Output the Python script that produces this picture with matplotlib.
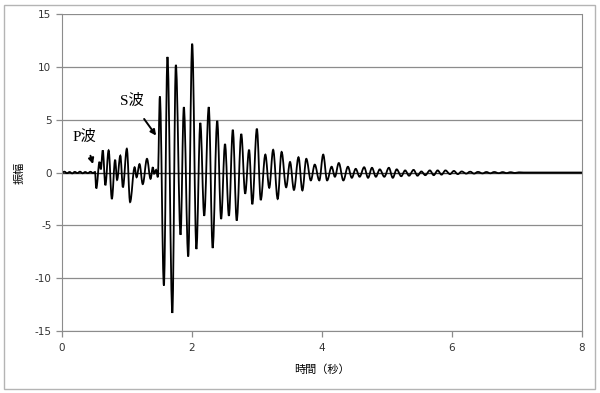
import numpy as np
import matplotlib
matplotlib.use('Agg')
import matplotlib.pyplot as plt
from matplotlib.patches import Rectangle, PathPatch
from matplotlib.path import Path

plt.rcParams['font.family'] = ['DejaVu Sans', 'Noto Sans CJK JP']
plt.rcParams['axes.unicode_minus'] = False

# values (peaks and troughs of the trace)
noise_t = [0.00, 0.04, 0.08, 0.12, 0.16, 0.20, 0.24, 0.28, 0.32, 0.36, 0.40, 0.44, 0.48, 0.51]
noise_a = [0.0, 0.08, -0.06, 0.05, -0.08, 0.06, -0.05, 0.08, -0.07, 0.05, -0.06, 0.07, -0.05, 0.05]

p_t = [0.53, 0.58, 0.60, 0.63, 0.67, 0.72, 0.77, 0.82, 0.85, 0.90, 0.94, 1.00,
       1.05, 1.12, 1.15, 1.195, 1.245, 1.31, 1.365, 1.40, 1.42, 1.45, 1.477]
p_a = [-1.5, 1.0, 0.3, 2.1, -1.2, 2.1, -2.5, 1.2, -0.7, 1.6, -1.4, 2.25,
       -2.8, 0.5, -0.45, 0.8, -1.1, 1.3, -0.6, 0.5, -0.1, 0.25, -0.45]

s_t = [1.508, 1.57, 1.625, 1.70, 1.754, 1.826, 1.877, 1.944, 2.005, 2.07, 2.13, 2.19,
       2.26, 2.32, 2.39, 2.45, 2.51, 2.57, 2.63, 2.69, 2.76, 2.82, 2.88, 2.93,
       3.00, 3.06, 3.13, 3.19, 3.25, 3.32, 3.38, 3.45, 3.51, 3.57, 3.64, 3.70,
       3.76, 3.83, 3.89, 3.96, 4.02, 4.08]
s_a = [7.2, -10.7, 10.95, -13.3, 10.2, -5.9, 6.2, -7.95, 12.2, -7.25, 4.7, -4.1,
       6.2, -7.15, 4.9, -4.4, 2.7, -4.1, 4.05, -4.55, 3.65, -2.0, 2.15, -3.0,
       4.15, -2.6, 1.7, -1.45, 2.15, -2.5, 1.95, -1.4, 1.0, -1.65, 1.45, -1.7,
       1.3, -0.75, 0.75, -0.75, 1.7, -0.75]

coda_t = [4.15, 4.20, 4.26, 4.33, 4.40, 4.46, 4.52, 4.58, 4.65, 4.71, 4.77, 4.83,
          4.89, 4.96, 5.03, 5.09, 5.15, 5.22, 5.28, 5.34, 5.41, 5.47, 5.53, 5.59,
          5.66, 5.72, 5.78, 5.84, 5.90, 5.97, 6.03, 6.09, 6.15, 6.22, 6.28, 6.34,
          6.40, 6.47, 6.53, 6.59, 6.65, 6.72, 6.78, 6.84, 6.90, 6.97, 7.03, 7.10,
          7.50, 8.00]
coda_a = [0.55, -0.4, 0.9, -0.75, 0.55, -0.5, 0.35, -0.4, 0.5, -0.5, 0.45, -0.4,
          0.3, -0.4, 0.45, -0.5, 0.3, -0.35, 0.2, -0.3, 0.25, -0.3, 0.1, -0.25,
          0.2, -0.25, 0.2, -0.2, 0.2, -0.15, 0.15, -0.15, 0.1, -0.1, 0.08, -0.1,
          0.06, -0.08, 0.05, -0.07, 0.05, -0.06, 0.04, -0.05, 0.03, -0.04, 0.02, 0.0,
          0.0, 0.0]

x_ticks = [0, 2, 4, 6, 8]
y_ticks = [-15, -10, -5, 0, 5, 10, 15]

t = np.array(noise_t + p_t + s_t + coda_t)
amp = np.array(noise_a + p_a + s_a + coda_a)

fig = plt.figure(figsize=(6, 3.93), dpi=100)
fig.patches.append(Rectangle((0.006, 0.01), 0.986, 0.978, transform=fig.transFigure,
                             fill=False, edgecolor='#b4b4b4', lw=1))
ax = fig.add_axes([0.103, 0.158, 0.867, 0.806])

for y in y_ticks:
    ax.axhline(y, color='#8c8c8c', lw=0.9, zorder=0)
ax.axhline(0, color='#333333', lw=0.9, zorder=1)

# smooth trace through the peaks: cubic segments, flat at each extremum
verts = [(t[0], amp[0])]
codes = [Path.MOVETO]
for i in range(1, len(t)):
    dx = (t[i] - t[i - 1]) * 0.36
    verts += [(t[i - 1] + dx, amp[i - 1]), (t[i] - dx, amp[i]), (t[i], amp[i])]
    codes += [Path.CURVE4] * 3
ax.add_patch(PathPatch(Path(verts, codes), facecolor='none', edgecolor='k',
                       lw=1.3, zorder=2))

ax.set_xlim(0, 8)
ax.set_ylim(-15, 15)
ax.set_xticks(x_ticks)
ax.set_yticks(y_ticks)
ax.tick_params(labelsize=7.5, colors='#333333', length=4, color='#8c8c8c', width=0.9)
ax.tick_params(axis='x', pad=5)
for s in ['left', 'bottom', 'right']:
    ax.spines[s].set_color('#8c8c8c')
ax.spines['top'].set_visible(False)

ax.set_xlabel('時間（秒）', fontsize=8, family=['Noto Sans CJK JP'], labelpad=8)
ax.set_ylabel('振幅', fontsize=8, family=['Noto Sans CJK JP'], labelpad=7)

serif = ['Liberation Serif', 'Noto Sans CJK JP']
ax.annotate('P波', xy=(0.48, 0.8), xytext=(0.35, 3.4), family=serif, fontsize=11,
            ha='center', va='center',
            arrowprops=dict(arrowstyle='-|>', color='k', lw=1.4, mutation_scale=8,
                            shrinkA=7, shrinkB=0))
ax.annotate('S波', xy=(1.45, 3.5), xytext=(1.07, 6.75), family=serif, fontsize=11,
            ha='center', va='center',
            arrowprops=dict(arrowstyle='-|>', color='k', lw=1.4, mutation_scale=8,
                            shrinkA=7, shrinkB=0))

fig.savefig('out.png', dpi=100)
